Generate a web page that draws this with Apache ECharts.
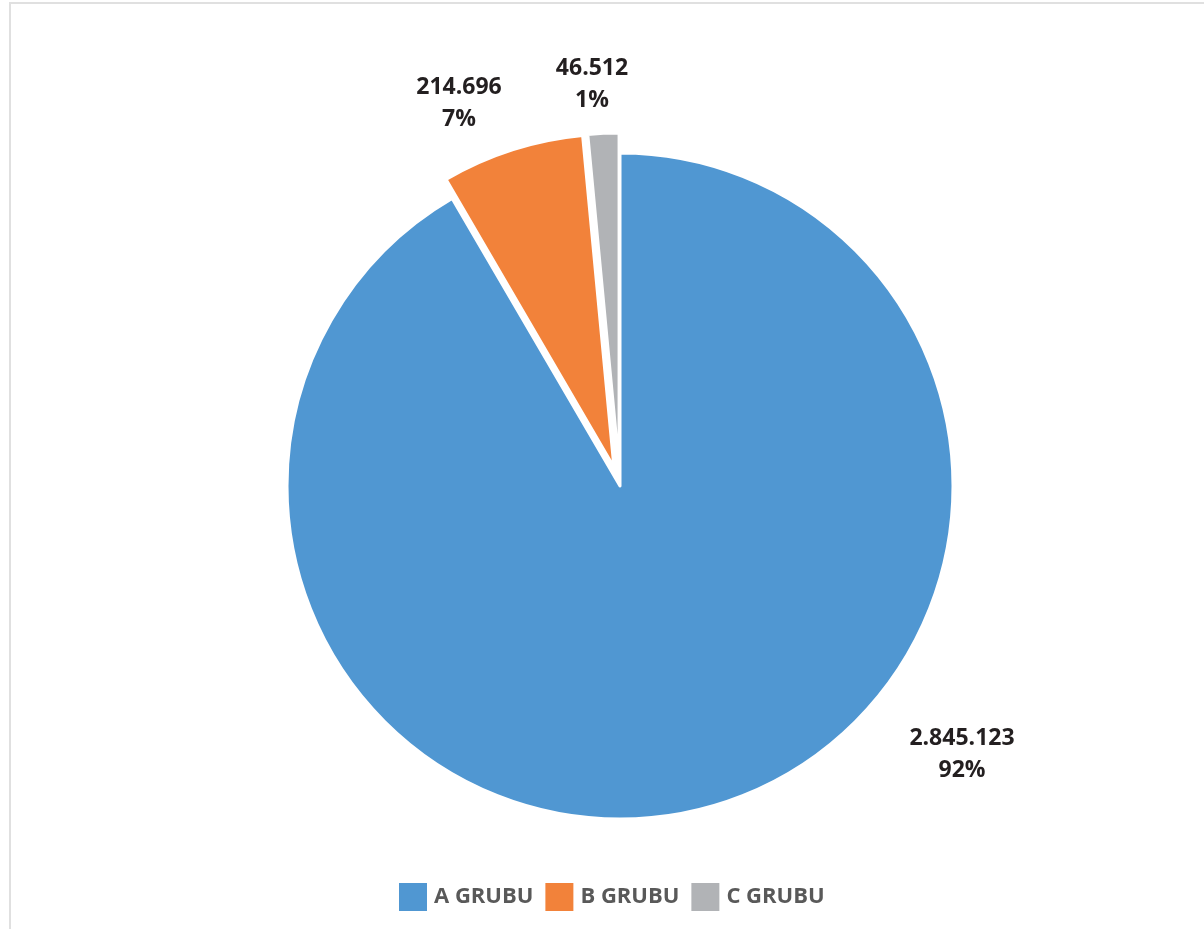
<!DOCTYPE html>
<html>
<head>
<meta charset="utf-8">
<script src="https://cdn.jsdelivr.net/npm/echarts@6/dist/echarts.min.js"></script>
<style>
  html, body { margin: 0; padding: 0; background: #fff; }
  #chart { width: 1204px; height: 929px; }
</style>
</head>
<body>
<div id="chart"></div>
<script>
// values
var categories = ['A GRUBU', 'B GRUBU', 'C GRUBU']
var groupValues = [2845123, 214696, 46512]
var groupColors = ['#5097d2', '#f2823a', '#b1b3b6']
// how far each slice is pulled out of the pie (px)
var pullOut = [0, 20, 20]

// label centres (pixels)
var labelSpots = [[962, 754], [459, 103], [592, 84]]

var pieCenter = [620, 486]

function dotted(n) {
  return String(n).replace(/\B(?=(\d{3})+(?!\d))/g, '.')
}

var total = 0
for (var i = 0; i < groupValues.length; i++) total += groupValues[i]

// one pie series per slice, the other slices left empty, so each slice can be pulled out on its own
var series = []
var before = 0
for (var k = 0; k < categories.length; k++) {
  var mid = (before + groupValues[k] / 2) / total * Math.PI * 2
  before += groupValues[k]
  var data = []
  for (var j = 0; j < categories.length; j++) {
    var shown = j === k
    data.push({
      name: categories[j],
      value: groupValues[j],
      itemStyle: shown
        ? { color: groupColors[j], borderColor: '#fff', borderWidth: 3 }
        : { color: 'rgba(0,0,0,0)', borderWidth: 0 },
      label: { show: shown }
    })
  }
  series.push({
    type: 'pie',
    name: categories[k],
    center: [pieCenter[0] + Math.sin(mid) * pullOut[k], pieCenter[1] - Math.cos(mid) * pullOut[k]],
    radius: 333,
    startAngle: 90,
    clockwise: true,
    silent: true,
    avoidLabelOverlap: false,
    emphasis: { disabled: true },
    label: {
      position: 'outside',
      fontFamily: 'Open Sans',
      fontWeight: 'bold',
      fontSize: 23,
      lineHeight: 32,
      color: '#231f20',
      formatter: function (p) {
        return dotted(p.value) + '\n' + Math.round(p.value / total * 100) + '%'
      }
    },
    labelLine: { show: false },
    labelLayout: function (p) {
      var s = labelSpots[p.dataIndex]
      return { x: s[0], y: s[1], align: 'center', verticalAlign: 'middle' }
    },
    data: data
  })
}

var legendData = []
for (var m = 0; m < categories.length; m++) {
  legendData.push({ name: categories[m], itemStyle: { color: groupColors[m] } })
}

var chart = echarts.init(document.getElementById('chart'))
var option = {
  animation: false,
  graphic: [{
    type: 'rect',
    shape: { x: 10, y: 3, width: 1400, height: 1200 },
    style: { fill: 'none', stroke: '#e0e0e0', lineWidth: 2 },
    silent: true
  }],
  legend: {
    data: legendData,
    left: 394,
    top: 878,
    icon: 'rect',
    itemWidth: 28,
    itemHeight: 28,
    itemGap: 12,
    selectedMode: false,
    textStyle: {
      fontFamily: 'Open Sans',
      fontWeight: 'bold',
      fontSize: 22,
      color: '#595959',
      padding: [0, 0, 0, 2]
    }
  },
  series: series
}
chart.setOption(option)
</script>
</body>
</html>
